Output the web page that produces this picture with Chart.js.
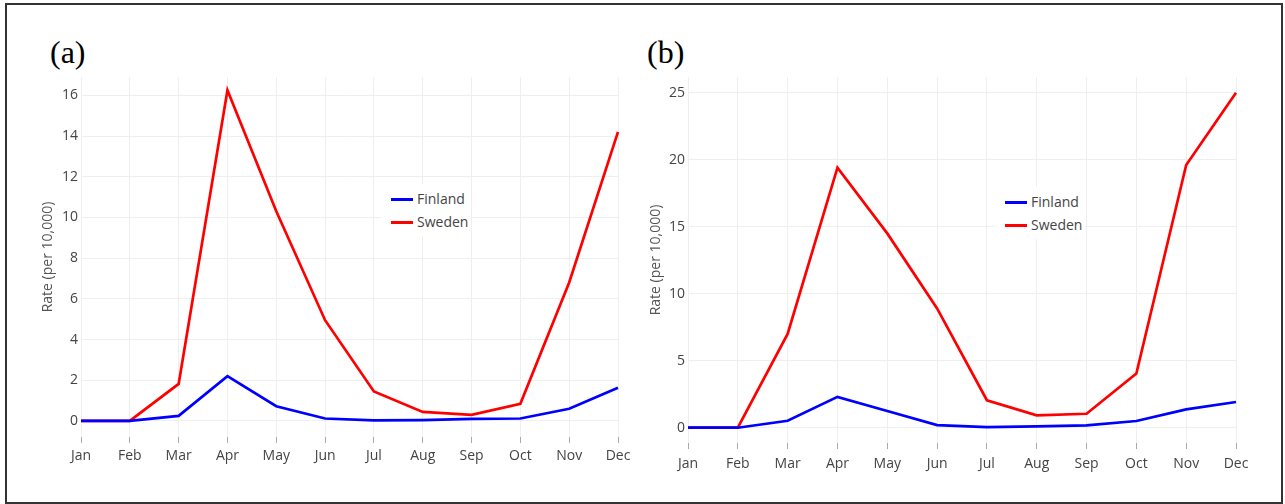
<!DOCTYPE html>
<html>
<head>
<meta charset="utf-8">
<script src="https://cdn.jsdelivr.net/npm/chart.js@4.4.1/dist/chart.umd.min.js"></script>
<style>
  html, body { margin: 0; padding: 0; background: #fff; }
  body { width: 1285px; height: 504px; position: relative; overflow: hidden; }
  #frame { position: absolute; left: 5px; top: 3px; width: 1274px; height: 497px; border: 2px solid #333; }
  canvas { position: absolute; top: 0; }
  .plabel { position: absolute; font-family: 'Liberation Serif', 'Times New Roman', serif; font-size: 32px; line-height: 32px; color: #000; }
  .legend { position: absolute; background: #fff; font-family: 'Open Sans', sans-serif; font-size: 14px; color: #444; }
  .legend .item { position: absolute; height: 20px; line-height: 20px; white-space: nowrap; }
  .legend .swatch { position: absolute; top: 9px; height: 3px; width: 22px; }
  .legend .txt { position: absolute; top: 0; }
</style>
</head>
<body>
<div id="frame"></div>
<div class="plabel" style="left:50px; top:36px;">(a)</div>
<div class="plabel" style="left:647px; top:36px;">(b)</div>
<canvas id="chartA" width="640" height="504" style="left:0px;"></canvas>
<canvas id="chartB" width="645" height="504" style="left:640px;"></canvas>
<div id="legendA" class="legend"></div>
<div id="legendB" class="legend"></div>
<script>
// ---- data ----
const months = ['Jan','Feb','Mar','Apr','May','Jun','Jul','Aug','Sep','Oct','Nov','Dec'];
const seriesNames = ['Finland', 'Sweden'];
const seriesColors = ['rgb(0,0,255)', 'rgb(255,0,0)'];

const finlandA = [0, 0, 0.25, 2.2, 0.72, 0.12, 0.03, 0.04, 0.1, 0.12, 0.6, 1.63];
const swedenA  = [0, 0, 1.82, 16.25, 10.3, 4.95, 1.45, 0.44, 0.3, 0.84, 6.8, 14.2];
const yTicksA  = [0, 2, 4, 6, 8, 10, 12, 14, 16];

const finlandB = [0, 0, 0.52, 2.3, 1.25, 0.2, 0.05, 0.1, 0.18, 0.5, 1.37, 1.92];
const swedenB  = [0, 0, 7.0, 19.4, 14.5, 8.9, 2.05, 0.92, 1.04, 4.05, 19.6, 25.0];
const yTicksB  = [0, 5, 10, 15, 20, 25];

const yTitle = 'Rate (per 10,000)';

Chart.defaults.font.family = "'Open Sans', sans-serif";
Chart.defaults.color = '#444';

function makeChart(id, fin, swe, ticks, cfg) {
  const ctx = document.getElementById(id);
  return new Chart(ctx, {
    type: 'line',
    data: {
      labels: months,
      datasets: [
        { label: seriesNames[0], data: fin, borderColor: seriesColors[0], backgroundColor: seriesColors[0], borderWidth: 2.7, pointRadius: 0, tension: 0, fill: false },
        { label: seriesNames[1], data: swe, borderColor: seriesColors[1], backgroundColor: seriesColors[1], borderWidth: 2.7, pointRadius: 0, tension: 0, fill: false }
      ]
    },
    options: {
      responsive: false,
      animation: false,
      devicePixelRatio: 1,
      events: [],
      layout: { padding: { left: cfg.padLeft, top: 77, right: cfg.padRight, bottom: 0 } },
      plugins: { legend: { display: false }, tooltip: { enabled: false }, title: { display: false } },
      scales: {
        x: {
          type: 'category',
          offset: false,
          grid: { color: '#efefef', lineWidth: 1, drawTicks: true, tickLength: cfg.tickLen, tickColor: '#aaa', tickWidth: 1 },
          border: { display: false },
          ticks: { font: { size: 14 }, color: '#444', padding: cfg.xPad, maxRotation: 0, autoSkip: false },
          afterFit: s => { s.height = cfg.xHeight; }
        },
        y: {
          min: cfg.ymin, max: cfg.ymax,
          grid: { color: '#efefef', lineWidth: 1, drawTicks: false },
          border: { display: false },
          ticks: { font: { size: 14 }, color: '#444', padding: 3 },
          afterBuildTicks: s => { s.ticks = ticks.map(v => ({ value: v })); },
          title: { display: true, text: yTitle, font: { size: 14 }, color: '#555', padding: 0 },
          afterFit: s => { s.width = cfg.yWidth; }
        }
      }
    }
  });
}

makeChart('chartA', finlandA, swedenA, yTicksA,
  { padLeft: 40, padRight: 22, yWidth: 41, xHeight: 67, tickLen: 6, xPad: 5, ymin: -0.79, ymax: 16.9 });
makeChart('chartB', finlandB, swedenB, yTicksB,
  { padLeft: 8, padRight: 49, yWidth: 40, xHeight: 61, tickLen: 6, xPad: 7, ymin: -1.14, ymax: 26.17 });

function buildLegend(id, box, lineX, textX, rows) {
  const el = document.getElementById(id);
  el.style.left = box[0] + 'px'; el.style.top = box[1] + 'px';
  el.style.width = box[2] + 'px'; el.style.height = box[3] + 'px';
  seriesNames.forEach((name, i) => {
    const item = document.createElement('div');
    item.className = 'item';
    item.style.left = '0px';
    item.style.top = (rows[i] - box[1] - 10) + 'px';
    const sw = document.createElement('div');
    sw.className = 'swatch';
    sw.style.left = (lineX - box[0]) + 'px';
    sw.style.background = seriesColors[i];
    const tx = document.createElement('div');
    tx.className = 'txt';
    tx.style.left = (textX - box[0]) + 'px';
    tx.textContent = name;
    item.appendChild(sw); item.appendChild(tx);
    el.appendChild(item);
  });
}
buildLegend('legendA', [381, 184, 90, 52], 391, 417, [199, 222]);
buildLegend('legendB', [995, 187, 90, 52], 1005, 1031, [202, 224.5]);
</script>
</body>
</html>
